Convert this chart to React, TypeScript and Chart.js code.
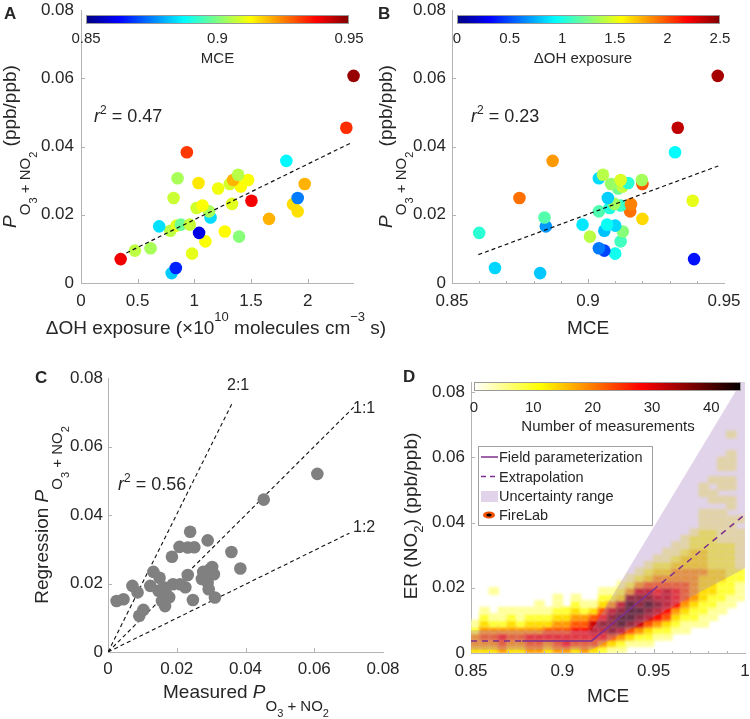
import React, { useEffect, useRef } from "react";
import { Chart, registerables } from "chart.js";

Chart.register(...registerables);

const FONT = "'Liberation Sans', Arial, Helvetica, sans-serif";
const TEXT = "#262626";
const AXIS = "#b4b4b4";
const PURPLE = "#7E2F8E";
const SHADE = "rgba(170,128,192,0.35)";

// ---------- Panels A & B: measured points ----------
const ohExposure = [0.80, 0.837, 0.35, 0.98, 0.476, 0.614, 1.098, 1.395, 1.042, 1.269, 0.788, 0.69, 0.843, 0.881, 0.96, 1.659, 1.143, 1.13, 1.912, 1.02, 1.072, 1.871, 1.333, 1.504, 0.817, 1.912, 1.21, 1.41, 1.313, 1.974, 1.037, 1.342, 1.474, 0.852, 1.386, 1.812, 0.934, 2.341, 2.405];
const mceValues = [0.8824, 0.8658, 0.939, 0.910, 0.906, 0.904, 0.912, 0.9007, 0.860, 0.9128, 0.906, 0.8845, 0.910, 0.898, 0.907, 0.920, 0.884, 0.904, 0.9155, 0.908, 0.912, 0.9158, 0.9097, 0.9385, 0.9073, 0.8748, 0.9111, 0.9127, 0.9085, 0.920, 0.9148, 0.9198, 0.912, 0.904, 0.9055, 0.887, 0.932, 0.933, 0.9477];
const pO3NO2 = [0.0029, 0.0044, 0.0070, 0.0086, 0.0095, 0.0102, 0.0122, 0.0136, 0.0147, 0.0151, 0.0153, 0.0166, 0.0168, 0.0171, 0.0171, 0.0188, 0.0192, 0.0210, 0.0210, 0.0220, 0.0227, 0.0231, 0.0232, 0.0241, 0.0249, 0.0249, 0.0277, 0.0283, 0.0290, 0.0290, 0.0293, 0.0302, 0.0302, 0.0307, 0.0317, 0.0358, 0.0383, 0.0455, 0.0607];

const fitAX = [0.40, 2.385];
const fitAY = [0.0088, 0.0411];
const fitBX = [0.8597, 0.9479];
const fitBY = [0.0083, 0.0343];

const cbMceTicks = [0.85, 0.9, 0.95];
const cbOhTicks = [0, 0.5, 1, 1.5, 2, 2.5];

// ---------- Panel C ----------
const cMeasured = [0.0025, 0.0045, 0.0071, 0.0086, 0.0091, 0.0103, 0.0123, 0.0132, 0.0150, 0.0147, 0.0157, 0.0166, 0.0169, 0.0162, 0.0178, 0.0186, 0.0189, 0.0208, 0.0210, 0.0225, 0.0232, 0.0232, 0.0239, 0.0251, 0.0247, 0.0277, 0.0273, 0.0290, 0.0293, 0.0296, 0.0303, 0.0311, 0.0308, 0.0290, 0.0359, 0.0385, 0.0453, 0.0609];
const cRegression = [0.0149, 0.0154, 0.0193, 0.0174, 0.0106, 0.0123, 0.0193, 0.0234, 0.0217, 0.0179, 0.0149, 0.0134, 0.0170, 0.0189, 0.0160, 0.0278, 0.0198, 0.0307, 0.0198, 0.0189, 0.0305, 0.0225, 0.0351, 0.0306, 0.0152, 0.0234, 0.0213, 0.0326, 0.0183, 0.0241, 0.0248, 0.0159, 0.0227, 0.0203, 0.0292, 0.0244, 0.0445, 0.0520];
const ratioNames = ["2:1", "1:1", "1:2"];
const ratioEndX = [0.0361, 0.0716, 0.0702];
const ratioEndY = [0.0726, 0.0716, 0.0347];

// ---------- Panel D ----------
const paramX = [0.878, 0.916, 0.9497];
const paramY = [0.0037, 0.0037, 0.0193];
const extrapLowX = [0.85, 0.878];
const extrapLowY = [0.0037, 0.0037];
const extrapHighX = [0.9497, 1.0];
const extrapHighY = [0.0193, 0.0425];
const uncUpperX = [0.85, 0.916, 1.0];
const uncUpperY = [0.007, 0.007, 0.085];
const uncLowerX = [0.85, 0.916, 1.0];
const uncLowerY = [0.001, 0.001, 0.026];
const cbCountTicks = [0, 10, 20, 30, 40];

// FireLab 2-D histogram: one string per MCE bin, bottom row first, each row is 0.002 of ER.
// Digits are density levels (count ≈ level × 4.5).
const ER_BIN = 0.002;
const heatMce = [0.8525, 0.8575, 0.8625, 0.8675, 0.8725, 0.8775, 0.8825, 0.8875, 0.8925, 0.8975, 0.9025, 0.9075, 0.9125, 0.9175, 0.9225, 0.9275, 0.9325, 0.9375, 0.9425, 0.9475, 0.9525, 0.9575, 0.9625, 0.9675, 0.9725, 0.9775, 0.9825, 0.9875, 0.9925, 0.9975];
const heatLevels = [
  "34421",
  "3454321",
  "3454210001",
  "4564211",
  "3454321",
  "3454211",
  "4564321",
  "45643211",
  "3465321",
  "456543211",
  "4665432",
  "356654321",
  "45665421",
  "35677531",
  "2467865321",
  "1358887421",
  "12479987321",
  "013589998421",
  "0124789887421",
  "01235789875321",
  "001246787654321",
  "0012356777543211",
  "00012346665443211",
  "000112345554433211",
  "0000122344444333221",
  "00001122333343332221110011",
  "000001122333322222211101101",
  "000000112223322221111101011011",
  "0000000112222222211110110110111001",
  "000000001112211111101",
];

// ---------- helpers ----------
type Run = { t: string; s: number; i?: boolean; b?: boolean; dy?: number };
const fnt = (r: Run) => `${r.i ? "italic " : ""}${r.b ? "bold " : ""}${r.s}px ${FONT}`;
const fmt = (v: number) => parseFloat(v.toFixed(4)).toString();

function drawRich(ctx: any, runs: Run[], x: number, y: number, align: "left" | "center" = "center", rotate = false) {
  ctx.save();
  ctx.translate(x, y);
  if (rotate) ctx.rotate(-Math.PI / 2);
  let w = 0;
  for (const r of runs) {
    ctx.font = fnt(r);
    w += ctx.measureText(r.t).width;
  }
  let cx = align === "center" ? -w / 2 : 0;
  ctx.fillStyle = TEXT;
  ctx.textAlign = "left";
  ctx.textBaseline = "alphabetic";
  for (const r of runs) {
    ctx.font = fnt(r);
    ctx.fillText(r.t, cx, r.dy || 0);
    cx += ctx.measureText(r.t).width;
  }
  ctx.restore();
}

function clamp01(v: number) {
  return Math.min(1, Math.max(0, v));
}
function jet(t: number) {
  t = clamp01(t);
  const c = (v: number) => Math.round(255 * clamp01(v));
  return `rgb(${c(1.5 - Math.abs(4 * t - 3))},${c(1.5 - Math.abs(4 * t - 2))},${c(1.5 - Math.abs(4 * t - 1))})`;
}
function hotR(count: number) {
  const t = 1 - clamp01(count / 45);
  const c = (v: number) => Math.round(255 * clamp01(v));
  return `rgb(${c(t / 0.375)},${c((t - 0.375) / 0.375)},${c((t - 0.75) / 0.25)})`;
}

function colorbar(ctx: any, x0: number, y0: number, x1: number, y1: number, fn: (t: number) => string, ticks: number[], vmin: number, vmax: number, labelBase: number, title: string, titleX: number, titleBase: number) {
  const g = ctx.createLinearGradient(x0, 0, x1, 0);
  for (let i = 0; i <= 100; i++) g.addColorStop(i / 100, fn(i / 100));
  ctx.fillStyle = g;
  ctx.fillRect(x0, y0, x1 - x0, y1 - y0);
  ctx.strokeStyle = "#9a9a9a";
  ctx.lineWidth = 1;
  ctx.strokeRect(x0 + 0.5, y0 + 0.5, x1 - x0 - 1, y1 - y0 - 1);
  ctx.fillStyle = TEXT;
  ctx.font = `15px ${FONT}`;
  ctx.textAlign = "center";
  ctx.textBaseline = "alphabetic";
  for (const v of ticks) {
    const px = x0 + ((v - vmin) / (vmax - vmin)) * (x1 - x0);
    ctx.fillText(fmt(v), px, labelBase);
  }
  ctx.fillText(title, titleX, titleBase);
}

function inwardTicks(chart: any, xMaj: number[], xMin: number[], yMaj: number[], yMin: number[]) {
  const { ctx, chartArea: a, scales } = chart;
  ctx.save();
  ctx.strokeStyle = AXIS;
  ctx.lineWidth = 1;
  ctx.beginPath();
  const xs = (vals: number[], len: number) =>
    vals.forEach((v) => {
      const p = Math.round(scales.x.getPixelForValue(v)) + 0.5;
      ctx.moveTo(p, a.bottom);
      ctx.lineTo(p, a.bottom - len);
    });
  const ys = (vals: number[], len: number) =>
    vals.forEach((v) => {
      const p = Math.round(scales.y.getPixelForValue(v)) + 0.5;
      ctx.moveTo(a.left, p);
      ctx.lineTo(a.left + len, p);
    });
  xs(xMaj, 4);
  xs(xMin, 2);
  ys(yMaj, 4);
  ys(yMin, 2);
  ctx.stroke();
  ctx.restore();
}

type PanelDef = { cx: number; cy: number; cw: number; ch: number; l: number; t: number; r: number; b: number };

function common(p: PanelDef) {
  return {
    responsive: false,
    animation: false,
    devicePixelRatio: 1,
    events: [],
    layout: { padding: { left: 0, top: p.t - p.cy, right: p.cx + p.cw - p.r, bottom: 0 } },
    plugins: { legend: { display: false }, tooltip: { enabled: false }, title: { display: false } },
  };
}

function axisScale(axis: "x" | "y", min: number, max: number, ticks: number[], size: number, pad: number) {
  return {
    type: "linear",
    position: axis === "x" ? "bottom" : "left",
    min,
    max,
    offset: false,
    grid: { display: false, drawTicks: false, offset: false },
    border: { display: true, color: AXIS, width: 1 },
    ticks: {
      autoSkip: false,
      maxRotation: 0,
      minRotation: 0,
      padding: pad,
      color: TEXT,
      font: { family: FONT, size: 17 },
      callback: (v: any) => fmt(Number(v)),
    },
    afterBuildTicks: (s: any) => {
      s.ticks = ticks.map((v) => ({ value: v }));
    },
    afterFit: (s: any) => {
      if (axis === "x") s.height = size;
      else s.width = size;
      s.paddingLeft = 0;
      s.paddingRight = 0;
      s.paddingTop = 0;
      s.paddingBottom = 0;
    },
  };
}

const pts = (xs: number[], ys: number[]) => xs.map((x, i) => ({ x, y: ys[i] }));
const range = (a: number, b: number, step: number) => {
  const out: number[] = [];
  for (let v = a; v <= b + 1e-9; v += step) out.push(+v.toFixed(4));
  return out;
};

const yTitleRuns = (lead: string, d1 = 14, d2 = 21): Run[] => [
  ...(lead ? [{ t: lead, s: 19 }] : []),
  { t: "P", s: 19, i: true },
  { t: "O", s: 15, dy: d1 },
  { t: "3", s: 11, dy: d2 },
  { t: " + NO", s: 15, dy: d1 },
  { t: "2", s: 11, dy: d2 },
];
const r2Runs = (v: string): Run[] => [
  { t: "r", s: 18, i: true },
  { t: "2", s: 12, dy: -8 },
  { t: " = " + v, s: 18 },
];

const POINT_R = 6.3;

// ---------- Panel A ----------
const PA: PanelDef = { cx: 0, cy: 0, cw: 410, ch: 360, l: 81, t: 10, r: 353, b: 283 };
function buildA(): any {
  return {
    type: "scatter",
    data: {
      datasets: [
        { data: pts(fitAX, fitAY), showLine: true, borderColor: "#111", borderWidth: 1.2, borderDash: [4, 3], pointRadius: 0, order: 0 },
        {
          data: pts(ohExposure, pO3NO2),
          pointRadius: POINT_R,
          pointBackgroundColor: mceValues.map((m) => jet((m - 0.85) / 0.1)),
          pointBorderWidth: 0,
          pointBorderColor: "rgba(0,0,0,0)",
          order: 1,
          clip: false,
        },
      ],
    },
    options: {
      ...common(PA),
      scales: {
        x: axisScale("x", 0, 2.4, [0, 0.5, 1, 1.5, 2], PA.cy + PA.ch - PA.b, 8),
        y: axisScale("y", 0, 0.08, [0, 0.02, 0.04, 0.06, 0.08], PA.l - PA.cx, 7),
      },
    },
    plugins: [
      {
        id: "decorA",
        afterDraw(chart: any) {
          const ctx = chart.ctx;
          inwardTicks(chart, [0.5, 1, 1.5, 2], [], [0.02, 0.04, 0.06], []);
          ctx.save();
          ctx.translate(-PA.cx, -PA.cy);
          colorbar(ctx, 86, 15, 349, 24, jet, cbMceTicks, 0.85, 0.95, 43, "MCE", 217.5, 63);
          drawRich(ctx, [...yTitleRuns(""), { t: " (ppb/ppb)", s: 19 }], 16, 146.5, "center", true);
          drawRich(
            ctx,
            [
              { t: "ΔOH exposure (×10", s: 19 },
              { t: "10", s: 13, dy: -13 },
              { t: " molecules cm", s: 19 },
              { t: "−3", s: 13, dy: -13 },
              { t: " s)", s: 19 },
            ],
            216,
            334
          );
          drawRich(ctx, [{ t: "A", s: 17, b: true }], 4, 19, "left");
          drawRich(ctx, r2Runs("0.47"), 94, 122, "left");
          ctx.restore();
        },
      },
    ],
  };
}

// ---------- Panel B ----------
const PB: PanelDef = { cx: 375, cy: 0, cw: 375, ch: 360, l: 452, t: 10, r: 724, b: 283 };
function buildB(): any {
  return {
    type: "scatter",
    data: {
      datasets: [
        { data: pts(fitBX, fitBY), showLine: true, borderColor: "#111", borderWidth: 1.2, borderDash: [4, 3], pointRadius: 0, order: 0 },
        {
          data: pts(mceValues, pO3NO2),
          pointRadius: POINT_R,
          pointBackgroundColor: ohExposure.map((o) => jet(o / 2.5)),
          pointBorderWidth: 0,
          pointBorderColor: "rgba(0,0,0,0)",
          order: 1,
          clip: false,
        },
      ],
    },
    options: {
      ...common(PB),
      scales: {
        x: axisScale("x", 0.85, 0.95, [0.85, 0.9, 0.95], PB.cy + PB.ch - PB.b, 8),
        y: axisScale("y", 0, 0.08, [0, 0.02, 0.04, 0.06, 0.08], PB.l - PB.cx, 6),
      },
    },
    plugins: [
      {
        id: "decorB",
        afterDraw(chart: any) {
          const ctx = chart.ctx;
          inwardTicks(chart, [0.9], range(0.86, 0.94, 0.01), [0.02, 0.04, 0.06], []);
          ctx.save();
          ctx.translate(-PB.cx, -PB.cy);
          colorbar(ctx, 457, 15, 720, 24, jet, cbOhTicks, 0, 2.5, 43, "ΔOH exposure", 583, 63);
          drawRich(ctx, [...yTitleRuns(""), { t: " (ppb/ppb)", s: 19 }], 391.5, 146.5, "center", true);
          drawRich(ctx, [{ t: "MCE", s: 19 }], 588, 334);
          drawRich(ctx, [{ t: "B", s: 17, b: true }], 378, 19, "left");
          drawRich(ctx, r2Runs("0.23"), 471, 122, "left");
          ctx.restore();
        },
      },
    ],
  };
}

// ---------- Panel C ----------
const PC: PanelDef = { cx: 0, cy: 360, cw: 400, ch: 359, l: 108, t: 378, r: 383, b: 652 };
function buildC(): any {
  const lines = ratioNames.map((_, i) => ({
    data: [
      { x: 0, y: 0 },
      { x: ratioEndX[i], y: ratioEndY[i] },
    ],
    showLine: true,
    borderColor: "#111",
    borderWidth: 1.1,
    borderDash: [4, 3],
    pointRadius: 0,
    order: 1,
  }));
  return {
    type: "scatter",
    data: {
      datasets: [
        {
          data: pts(cMeasured, cRegression),
          pointRadius: POINT_R,
          pointBackgroundColor: "#808080",
          pointBorderWidth: 0,
          pointBorderColor: "rgba(0,0,0,0)",
          order: 0,
          clip: false,
        },
        ...lines,
      ],
    },
    options: {
      ...common(PC),
      scales: {
        x: axisScale("x", 0, 0.08, [0, 0.02, 0.04, 0.06, 0.08], PC.cy + PC.ch - PC.b, 7),
        y: axisScale("y", 0, 0.08, [0, 0.02, 0.04, 0.06, 0.08], PC.l - PC.cx, 5),
      },
    },
    plugins: [
      {
        id: "decorC",
        afterDraw(chart: any) {
          const ctx = chart.ctx;
          inwardTicks(chart, [0.02, 0.04, 0.06], [], [0.02, 0.04, 0.06], []);
          ctx.save();
          ctx.translate(-PC.cx, -PC.cy);
          const labelPos = [
            [227, 390],
            [353, 413],
            [353, 532],
          ];
          ratioNames.forEach((n, i) => drawRich(ctx, [{ t: n, s: 16 }], labelPos[i][0], labelPos[i][1], "left"));
          drawRich(ctx, r2Runs("0.56"), 118, 490, "left");
          drawRich(ctx, yTitleRuns("Regression "), 48, 515, "center", true);
          drawRich(ctx, yTitleRuns("Measured ", 13, 19), 246, 698);
          drawRich(ctx, [{ t: "C", s: 17, b: true }], 35, 383, "left");
          ctx.restore();
        },
      },
    ],
  };
}

// ---------- Panel D ----------
const PD: PanelDef = { cx: 375, cy: 360, cw: 375, ch: 359, l: 471, t: 382, r: 745, b: 653 };
const HEAT_INDEX = 5;
function buildD(): any {
  const cells: any[] = [];
  const colors: string[] = [];
  heatMce.forEach((m, i) => {
    const s = heatLevels[i];
    for (let k = 0; k < s.length; k++) {
      const L = Number(s[k]);
      if (L > 0) {
        cells.push({ x: m, y: [k * ER_BIN, (k + 1) * ER_BIN] });
        colors.push(hotR(L * 4.5));
      }
    }
  });
  return {
    type: "scatter",
    data: {
      datasets: [
        { data: pts(paramX, paramY), showLine: true, borderColor: PURPLE, borderWidth: 1.5, pointRadius: 0, order: 0 },
        { data: pts(extrapLowX, extrapLowY), showLine: true, borderColor: PURPLE, borderWidth: 1.5, borderDash: [6, 5], pointRadius: 0, order: 0 },
        { data: pts(extrapHighX, extrapHighY), showLine: true, borderColor: PURPLE, borderWidth: 1.5, borderDash: [6, 5], pointRadius: 0, order: 0 },
        { data: pts(uncUpperX, uncUpperY), showLine: true, borderWidth: 0, borderColor: "rgba(0,0,0,0)", pointRadius: 0, fill: "+1", backgroundColor: SHADE, order: 1 },
        { data: pts(uncLowerX, uncLowerY), showLine: true, borderWidth: 0, borderColor: "rgba(0,0,0,0)", pointRadius: 0, order: 1 },
        {
          type: "bar",
          data: cells,
          backgroundColor: colors,
          borderWidth: 0,
          barPercentage: 1,
          categoryPercentage: 1,
          inflateAmount: 0.6,
          order: 2,
        },
      ],
    },
    options: {
      ...common(PD),
      scales: {
        x: axisScale("x", 0.85, 1.0, [0.85, 0.9, 0.95, 1], PD.cy + PD.ch - PD.b, 8),
        y: axisScale("y", 0, 0.0831, [0, 0.02, 0.04, 0.06, 0.08], PD.l - PD.cx, 6),
      },
    },
    plugins: [
      {
        id: "decorD",
        beforeDatasetDraw(chart: any, args: any) {
          if (args.index === HEAT_INDEX) {
            chart.ctx.save();
            chart.ctx.filter = "blur(1.8px)";
          }
        },
        afterDatasetDraw(chart: any, args: any) {
          if (args.index === HEAT_INDEX) chart.ctx.restore();
        },
        afterDraw(chart: any) {
          const ctx = chart.ctx;
          inwardTicks(chart, [0.9, 0.95], range(0.86, 0.99, 0.01), [0.02, 0.04, 0.06, 0.08], []);
          ctx.save();
          ctx.translate(-PD.cx, -PD.cy);
          colorbar(ctx, 474, 382, 741, 391, (t) => hotR(t * 45), cbCountTicks, 0, 45, 411.5, "Number of measurements", 608, 431);
          // legend
          ctx.fillStyle = "#fff";
          ctx.fillRect(478, 446, 174, 79);
          ctx.strokeStyle = "#a0a0a0";
          ctx.lineWidth = 1;
          ctx.strokeRect(478.5, 446.5, 174, 79);
          ctx.strokeStyle = PURPLE;
          ctx.lineWidth = 1.5;
          ctx.beginPath();
          ctx.moveTo(481, 457);
          ctx.lineTo(498, 457);
          ctx.stroke();
          ctx.setLineDash([5, 4]);
          ctx.beginPath();
          ctx.moveTo(481, 476.5);
          ctx.lineTo(499, 476.5);
          ctx.stroke();
          ctx.setLineDash([]);
          ctx.fillStyle = SHADE;
          ctx.fillRect(481, 491, 17, 11);
          ctx.fillStyle = "#f05000";
          ctx.beginPath();
          ctx.ellipse(489, 515, 6, 3.6, 0, 0, Math.PI * 2);
          ctx.fill();
          ctx.fillStyle = "#000";
          ctx.beginPath();
          ctx.ellipse(489, 515, 2.6, 1.5, 0, 0, Math.PI * 2);
          ctx.fill();
          ctx.fillStyle = TEXT;
          ctx.font = `14.5px ${FONT}`;
          ctx.textAlign = "left";
          ctx.textBaseline = "middle";
          ctx.fillText("Field parameterization", 499, 458);
          ctx.fillText("Extrapolation", 499, 477.5);
          ctx.fillText("Uncertainty range", 499, 497);
          ctx.fillText("FireLab", 499, 516);
          drawRich(ctx, [{ t: "ER (NO", s: 19 }, { t: "2", s: 13, dy: 6 }, { t: ") (ppb/ppb)", s: 19 }], 417, 516, "center", true);
          drawRich(ctx, [{ t: "MCE", s: 19 }], 608, 702);
          drawRich(ctx, [{ t: "D", s: 17, b: true }], 403, 382, "left");
          ctx.restore();
        },
      },
    ],
  };
}

function ChartPanel({ def, build }: { def: PanelDef; build: () => any }) {
  const ref = useRef<HTMLCanvasElement>(null);
  useEffect(() => {
    const chart = new Chart(ref.current as HTMLCanvasElement, build());
    return () => chart.destroy();
  }, []);
  return (
    <canvas
      ref={ref}
      width={def.cw}
      height={def.ch}
      style={{ position: "absolute", left: def.cx, top: def.cy, width: def.cw, height: def.ch }}
    />
  );
}

export default function App() {
  return (
    <div style={{ position: "absolute", left: 0, top: 0, width: 750, height: 719, background: "#fff", overflow: "hidden" }}>
      <ChartPanel def={PA} build={buildA} />
      <ChartPanel def={PB} build={buildB} />
      <ChartPanel def={PD} build={buildD} />
      <ChartPanel def={PC} build={buildC} />
    </div>
  );
}
